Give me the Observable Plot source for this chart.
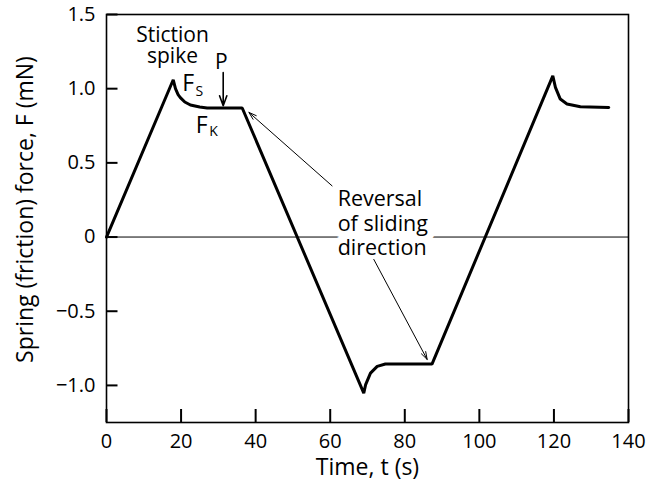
<!DOCTYPE html>
<html>
<head>
<meta charset="utf-8">
<script src="https://cdn.jsdelivr.net/npm/d3@7"></script>
<script src="https://cdn.jsdelivr.net/npm/@observablehq/plot@0.6"></script>
<style>
  html, body { margin: 0; padding: 0; background: #fff; overflow: hidden; }
</style>
</head>
<body>
<div id="chart"></div>
<script>
// Data
const time  = [0, 17.9, 18.5, 19.2, 19.8, 21, 22.5, 25, 27, 36.4,
               69.0, 69.5, 70.8, 72.6, 74.8, 87.3,
               119.7, 120.4, 121.7, 123.5, 127.1, 134.7];
const force = [0, 1.06, 1.0, 0.96, 0.94, 0.91, 0.89, 0.876, 0.87, 0.87,
               -1.052, -0.995, -0.917, -0.872, -0.856, -0.856,
               1.086, 1.009, 0.93, 0.897, 0.878, 0.874];

const xTicks = [0, 20, 40, 60, 80, 100, 120, 140];
const yTicks = [1.5, 1.0, 0.5, 0, -0.5, -1.0];
const yTickLabels = ["1.5", "1.0", "0.5", "0", "\u22120.5", "\u22121.0"];
const xDomain = [0, 140];
const yDomain = [-1.25, 1.5];

const xLabel = "Time, t (s)";
const yLabel = "Spring (friction) force, F (mN)";

// Annotations (positions in data units)
const stiction = {t: 17.7, f: 1.29, text: "Stiction\nspike"};
const fMain = [{t: 21.9, f: 1.032, text: "F"}, {t: 25.5, f: 0.75, text: "F"}];
const fSub  = [{t: 24.9, f: 0.98, text: "S"}, {t: 28.7, f: 0.71, text: "K"}];
const pLabel = {t: 30.8, f: 1.18, text: "P"};
const pArrow = {t1: 31.3, f1: 1.108, t2: 31.3, f2: 0.885};
const reversal = {t: 62.0, f: 0.095, text: "Reversal\nof sliding\ndirection"};
const revArrows = [
  {t1: 60.5, f1: 0.345, t2: 38.2, f2: 0.84},
  {t1: 71.7, f1: -0.151, t2: 86.0, f2: -0.825}
];

const data = time.map((t, i) => ({t, f: force[i]}));
const xTickData = xTicks.map(v => ({v}));
const yTickData = yTicks.map(v => ({v}));

// layout
const W = 647, H = 482, mL = 106, mR = 19, mT = 14, mB = 60;
const frameW = W - mL - mR, frameH = H - mT - mB;
// inward tick lengths (pixels) expressed in data units
const xTickLen = 13 * (yDomain[1] - yDomain[0]) / frameH;
const yTickLen = 11 * (xDomain[1] - xDomain[0]) / frameW;

const chart = Plot.plot({
  width: W,
  height: H,
  marginLeft: mL,
  marginRight: mR,
  marginTop: mT,
  marginBottom: mB,
  style: {fontFamily: "'Open Sans', sans-serif", fontSize: "20px", color: "#000", background: "#fff"},
  x: {domain: xDomain, ticks: xTicks, tickSize: 0, tickPadding: 11, label: null},
  y: {domain: yDomain, ticks: yTicks, tickSize: 0, tickPadding: 11,
      tickFormat: d => yTickLabels[yTicks.indexOf(d)], label: null},
  marks: [
    Plot.ruleY([0], {stroke: "#000", strokeWidth: 1}),
    Plot.frame({stroke: "#000", strokeWidth: 1.6}),
    // inward ticks
    Plot.ruleX(xTickData, {x: "v", y1: yDomain[0], y2: yDomain[0] + xTickLen, stroke: "#000", strokeWidth: 2}),
    Plot.link(yTickData, {x1: xDomain[0], x2: xDomain[0] + yTickLen, y1: "v", y2: "v", stroke: "#000", strokeWidth: 2}),
    Plot.line(data, {x: "t", y: "f", stroke: "#000", strokeWidth: 3, strokeLinejoin: "miter"}),
    Plot.text([stiction], {x: "t", y: "f", text: "text", fontSize: 21, lineHeight: 1.0, fill: "#000"}),
    Plot.text(fMain, {x: "t", y: "f", text: "text", fontSize: 23, fill: "#000"}),
    Plot.text(fSub, {x: "t", y: "f", text: "text", fontSize: 14, fill: "#000"}),
    Plot.text([pLabel], {x: "t", y: "f", text: "text", fontSize: 21, fill: "#000"}),
    Plot.arrow([pArrow], {x1: "t1", y1: "f1", x2: "t2", y2: "f2", stroke: "#000", strokeWidth: 1.6, headLength: 10, headAngle: 40}),
    Plot.text([reversal], {x: "t", y: "f", text: "text", textAnchor: "start", fontSize: 21.5, lineHeight: 1.13,
      fill: "#000", stroke: "#fff", strokeWidth: 14}),
    Plot.arrow(revArrows, {x1: "t1", y1: "f1", x2: "t2", y2: "f2", stroke: "#000", strokeWidth: 1, headLength: 12, headAngle: 35}),
    Plot.text([xLabel], {frameAnchor: "bottom", textAnchor: "middle", lineAnchor: "middle", dy: 45, fontSize: 23, fill: "#000"}),
    Plot.text([yLabel], {frameAnchor: "left", textAnchor: "middle", lineAnchor: "middle", rotate: -90, dx: -81, dy: -9, fontSize: 23, fill: "#000"})
  ]
});
document.getElementById("chart").appendChild(chart);
</script>
</body>
</html>
